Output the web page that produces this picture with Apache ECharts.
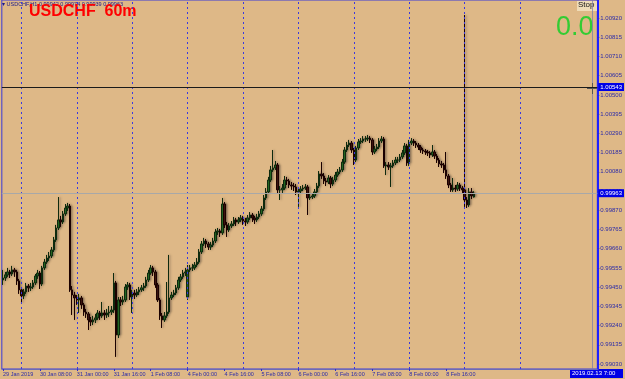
<!DOCTYPE html>
<html><head><meta charset="utf-8">
<script src="https://cdn.jsdelivr.net/npm/echarts@6/dist/echarts.min.js"></script>
<style>html,body{margin:0;padding:0;background:#deb887;}#c{width:625px;height:379px;}</style>
</head><body><div id="c"></div>
<script>
// USDCHF H1 candles, 29 Jan 2019 16:00 .. 11 Feb 2019 04:00
const opens = [.99489,.99500,.99517,.99533,.99522,.99544,.99533,.99484,.99435,.99402,.99424,.99456,.99446,.99451,.99473,.99511,.99527,.99467,.99555,.99587,
.99609,.99620,.99653,.99708,.99773,.99817,.99806,.99850,.99882,.99893,.99435,.99407,.99391,.99380,.99391,.99353,.99314,.99304,.99271,.99260,
.99271,.99282,.99309,.99293,.99309,.99298,.99309,.99314,.99325,.99473,.99189,.99380,.99369,.99380,.99451,.99462,.99396,.99418,.99407,.99424,
.99435,.99446,.99456,.99489,.99527,.99555,.99533,.99462,.99380,.99293,.99271,.99293,.99314,.99391,.99407,.99418,.99446,.99489,.99506,.99527,
.99396,.99544,.99555,.99555,.99571,.99587,.99642,.99686,.99702,.99686,.99669,.99680,.99702,.99751,.99757,.99746,.99904,.99790,.99762,.99784,
.99795,.99817,.99806,.99817,.99828,.99811,.99806,.99828,.99844,.99828,.99817,.99833,.99850,.99877,.99937,.99970,1.00035,1.00090,1.00101,1.00117,
.99981,.99981,.99991,1.00035,1.00030,1.00008,1.00002,.99997,.99970,.99975,.99986,.99991,.99997,.99937,.99942,.99948,.99970,1.00002,1.00068,1.00057,
1.00030,1.00024,1.00046,1.00013,1.00035,1.00062,1.00079,1.00090,1.00133,1.00199,1.00226,1.00237,1.00199,1.00144,1.00210,1.00243,1.00248,1.00259,1.00259,1.00264,
1.00254,1.00188,1.00204,1.00215,1.00248,1.00259,1.00112,1.00117,1.00106,1.00112,1.00128,1.00144,1.00144,1.00161,1.00183,1.00221,1.00128,1.00237,1.00248,1.00237,
1.00226,1.00215,1.00199,1.00193,1.00188,1.00183,1.00172,1.00188,1.00166,1.00144,1.00123,1.00117,1.00090,1.00057,1.00008,.99981,.99991,.99986,1.00008,.99991,
.99981,.99926,.99899,.99970,.99942];
const closes = [.99500,.99517,.99533,.99522,.99544,.99533,.99484,.99435,.99402,.99424,.99456,.99446,.99451,.99473,.99511,.99527,.99467,.99555,.99587,.99609,
.99620,.99653,.99708,.99773,.99817,.99806,.99850,.99882,.99893,.99435,.99407,.99391,.99380,.99391,.99353,.99314,.99304,.99271,.99260,.99271,
.99282,.99309,.99293,.99309,.99298,.99309,.99314,.99325,.99473,.99189,.99380,.99369,.99380,.99451,.99462,.99396,.99418,.99407,.99424,.99435,
.99446,.99456,.99489,.99527,.99555,.99533,.99462,.99380,.99293,.99271,.99293,.99314,.99391,.99407,.99418,.99446,.99489,.99506,.99527,.99533,
.99544,.99555,.99555,.99571,.99587,.99642,.99686,.99702,.99686,.99669,.99680,.99702,.99751,.99757,.99746,.99904,.99790,.99762,.99784,.99795,
.99817,.99806,.99817,.99828,.99811,.99806,.99828,.99844,.99828,.99817,.99833,.99850,.99877,.99937,.99970,1.00035,1.00090,1.00101,1.00117,.99981,
.99981,.99991,1.00035,1.00030,1.00008,1.00002,.99997,.99970,.99975,.99986,.99991,.99997,.99937,.99942,.99948,.99970,1.00002,1.00068,1.00057,1.00030,
1.00024,1.00046,1.00013,1.00035,1.00062,1.00079,1.00090,1.00133,1.00199,1.00226,1.00237,1.00199,1.00144,1.00210,1.00243,1.00248,1.00259,1.00259,1.00264,1.00254,
1.00188,1.00204,1.00215,1.00248,1.00259,1.00112,1.00117,1.00106,1.00112,1.00128,1.00144,1.00144,1.00161,1.00183,1.00221,1.00128,1.00237,1.00248,1.00237,1.00226,
1.00215,1.00199,1.00193,1.00188,1.00183,1.00172,1.00188,1.00166,1.00144,1.00123,1.00117,1.00090,1.00057,1.00008,.99981,.99991,.99986,1.00008,.99991,.99981,
.99926,.99899,.99970,.99948,.99963];
const lows = [.99462,.99484,.99506,.99500,.99511,.99506,.99462,.99413,.99364,.99385,.99413,.99424,.99429,.99440,.99462,.99495,.99440,.99456,.99544,.99577,
.99593,.99609,.99642,.99697,.99762,.99779,.99795,.99839,.99866,.99424,.99298,.99271,.99353,.99309,.99331,.99293,.99282,.99216,.99238,.99243,
.99254,.99271,.99271,.99282,.99271,.99282,.99287,.99298,.99309,.99069,.99172,.99347,.99353,.99369,.99435,.99380,.99309,.99385,.99396,.99407,
.99424,.99429,.99446,.99478,.99517,.99511,.99446,.99369,.99271,.99227,.99260,.99282,.99304,.99380,.99396,.99407,.99435,.99478,.99495,.99511,
.99380,.99533,.99538,.99544,.99560,.99577,.99631,.99675,.99664,.99653,.99653,.99669,.99691,.99735,.99724,.99735,.99773,.99724,.99751,.99773,
.99784,.99784,.99795,.99806,.99790,.99784,.99795,.99817,.99806,.99795,.99806,.99822,.99839,.99866,.99926,.99959,1.00024,1.00079,1.00090,.99959,
.99926,.99964,.99981,1.00008,.99991,.99981,.99975,.99953,.99888,.99964,.99975,.99981,.99844,.99926,.99931,.99937,.99959,.99991,1.00041,1.00013,
1.00002,1.00013,.99991,1.00002,1.00024,1.00052,1.00068,1.00079,1.00123,1.00188,1.00215,1.00183,1.00117,1.00133,1.00199,1.00232,1.00237,1.00243,1.00248,1.00237,
1.00172,1.00177,1.00193,1.00204,1.00237,1.00101,1.00062,1.00090,.99997,1.00101,1.00117,1.00128,1.00133,1.00150,1.00172,1.00112,1.00112,1.00226,1.00221,1.00210,
1.00199,1.00183,1.00177,1.00172,1.00166,1.00155,1.00161,1.00150,1.00128,1.00106,1.00101,1.00073,1.00041,.99991,.99970,.99970,.99970,.99975,.99975,.99964,
.99888,.99882,.99888,.99931,.99939];
const highs = [.99544,.99533,.99555,.99544,.99566,.99555,.99544,.99495,.99446,.99440,.99473,.99467,.99473,.99489,.99522,.99544,.99538,.99566,.99604,.99626,
.99642,.99669,.99724,.99790,.99942,.99839,.99866,.99904,.99910,.99904,.99456,.99424,.99407,.99413,.99402,.99364,.99331,.99314,.99287,.99293,
.99304,.99325,.99320,.99369,.99325,.99331,.99347,.99347,.99527,.99484,.99396,.99396,.99402,.99467,.99478,.99473,.99435,.99435,.99440,.99451,
.99462,.99473,.99506,.99544,.99571,.99566,.99544,.99473,.99391,.99309,.99314,.99478,.99626,.99424,.99435,.99462,.99506,.99522,.99544,.99555,
.99571,.99571,.99577,.99587,.99609,.99658,.99702,.99719,.99713,.99697,.99697,.99719,.99768,.99773,.99768,.99937,.99915,.99806,.99800,.99811,
.99833,.99828,.99833,.99844,.99839,.99828,.99844,.99860,.99855,.99839,.99850,.99866,.99893,.99953,.99991,1.00052,1.00112,1.00199,1.00139,1.00128,
1.00002,1.00013,1.00057,1.00052,1.00041,1.00024,1.00019,1.00013,.99991,1.00002,1.00008,1.00013,1.00008,.99959,.99964,.99986,1.00019,1.00084,1.00133,1.00073,
1.00046,1.00062,1.00057,1.00052,1.00079,1.00095,1.00106,1.00150,1.00215,1.00243,1.00254,1.00248,1.00210,1.00221,1.00259,1.00264,1.00275,1.00275,1.00281,1.00275,
1.00264,1.00221,1.00232,1.00264,1.00275,1.00270,1.00133,1.00133,1.00128,1.00144,1.00161,1.00161,1.00177,1.00199,1.00237,1.00232,1.00254,1.00264,1.00259,1.00248,
1.00237,1.00226,1.00210,1.00204,1.00199,1.00193,1.00226,1.00199,1.00177,1.00155,1.00139,1.00128,1.00188,1.00068,1.00019,1.00046,1.00008,1.00024,1.00019,1.00002,
1.00936,.99942,.99991,.99991,.99974];
const totalSlots = 258;
const xTickLabels = ['29 Jan 2019','30 Jan 08:00','31 Jan 00:00','31 Jan 16:00','1 Feb 08:00','4 Feb 00:00','4 Feb 16:00','5 Feb 08:00','6 Feb 00:00','6 Feb 16:00','7 Feb 08:00','8 Feb 00:00','8 Feb 16:00'];
const xTickStep = 16;
const daySeparators = [8,32,56,80,104,128,152,176,200,224];
const yTicks = [0.99030,0.99135,0.99240,0.99345,0.99450,0.99555,0.99660,0.99765,0.99870,0.99975,1.00080,1.00185,1.00290,1.00395,1.00500,1.00605,1.00710,1.00815,1.00920];
const yMin = 0.99003, yMax = 1.01018;
const bidPrice = 0.99963;
const levelLine = 1.00543;

const categories = [];
for (let i = 0; i < totalSlots; i++) categories.push('b' + i);
const candles = opens.map((o, i) => [o, closes[i], lows[i], highs[i]]);

const chart = echarts.init(document.getElementById('c'), null, {renderer: 'canvas'});
const axisBlue = '#2b2bd0';
const labelBlue = '#2a2aa8';
const FONT = 'Liberation Sans';
const isTick = (i) => i % xTickStep === 0 && i / xTickStep < xTickLabels.length;

const priceLabel = (txt) => ({show: true, position: 'end', distance: 1, formatter: txt,
  backgroundColor: '#0000e6', color: '#ffffff', fontSize: 6, fontFamily: FONT, padding: [1, 2, 1, 2]});

chart.setOption({
  animation: false,
  backgroundColor: '#deb887',
  grid: {left: 0, right: 27, top: 0, bottom: 10, show: true, borderColor: '#3a3ad8', borderWidth: 1, backgroundColor: 'transparent'},
  xAxis: {
    type: 'category', data: categories, boundaryGap: true,
    axisLine: {show: true, lineStyle: {color: '#6a6ab8', width: 1}},
    axisTick: {show: true, interval: (i) => isTick(i), alignWithLabel: true, length: 2, lineStyle: {color: axisBlue}},
    axisLabel: {show: true, interval: (i) => isTick(i), formatter: (v, i) => xTickLabels[i / xTickStep],
      align: 'left', margin: 2, fontSize: 5.5, color: labelBlue, fontFamily: FONT},
    splitLine: {show: false}
  },
  yAxis: {
    type: 'value', position: 'right', min: yMin, max: yMax, scale: true,
    axisLine: {show: true, lineStyle: {color: '#2020ff', width: 2}},
    axisTick: {show: true, customValues: yTicks, length: 2, lineStyle: {color: axisBlue}},
    axisLabel: {show: true, customValues: yTicks, formatter: (v) => v.toFixed(5), margin: 3,
      fontSize: 6, color: labelBlue, fontFamily: FONT},
    splitLine: {show: false}
  },
  series: [
    {
      type: 'line', data: [], silent: true, z: 1,
      markLine: {silent: true, symbol: ['none', 'none'], animation: false, precision: 5,
        data: daySeparators.map(d => ({xAxis: 'b' + d, lineStyle: {color: '#3a3ae0', type: [2, 3], width: 1}, label: {show: false}}))
          .concat([
            {yAxis: bidPrice, lineStyle: {color: '#a8a8a8', type: 'solid', width: 1}, label: priceLabel(bidPrice.toFixed(5))},
            {yAxis: levelLine, lineStyle: {color: '#1a1a1a', type: 'solid', width: 1}, label: priceLabel(levelLine.toFixed(5))}
          ])
      }
    },
    {
      type: 'candlestick', z: 3,
      data: candles,
      barWidth: 2,
      itemStyle: {
        color: '#1f6e1f', color0: '#3a0d08',
        borderColor: '#0e2a0e', borderColor0: '#1a0000', borderWidth: 1,
        shadowColor: 'rgba(70,60,50,0.45)', shadowBlur: 2, shadowOffsetX: 1.5
      }
    }
  ],
  graphic: [
    {type: 'text', left: 2, top: 1, style: {text: '\u25BE USDCHF,H1 0.99942 0.99974 0.99939 0.99963', fontSize: 5.5, fill: '#1a1a8c', fontFamily: FONT}},
    {type: 'text', left: 29, top: 4, style: {text: 'USDCHF  60m', fontSize: 16, fontWeight: 'bold', fill: '#ff0000', fontFamily: FONT}},
    {type: 'text', left: 556, top: 14, style: {text: '0.0', fontSize: 27, fill: '#33cc33', fontFamily: 'Liberation Sans Narrow, Liberation Sans'}},
    {type: 'rect', shape: {x: 577, y: 1, width: 21, height: 10}, style: {fill: '#efdcb8'}},
    {type: 'text', left: 578, top: 1, style: {text: 'Stop', fontSize: 8, fill: '#111', fontFamily: FONT}},
    {type: 'line', shape: {x1: 592.5, y1: 0, x2: 592.5, y2: 369}, style: {stroke: 'rgba(120,120,170,0.7)', lineWidth: 1}},
    {type: 'line', shape: {x1: 587, y1: 88.5, x2: 598, y2: 88.5}, style: {stroke: '#555', lineWidth: 1}},
    {type: 'line', shape: {x1: 592.5, y1: 83, x2: 592.5, y2: 94}, style: {stroke: '#555', lineWidth: 1}},
    {type: 'rect', shape: {x: 570, y: 369, width: 53, height: 9}, style: {fill: '#0000e6'}},
    {type: 'text', left: 572, top: 370, style: {text: '2019.02.13 7:00', fontSize: 6, fill: '#ffffff', fontFamily: FONT}}
  ]
});
</script>
</body></html>
